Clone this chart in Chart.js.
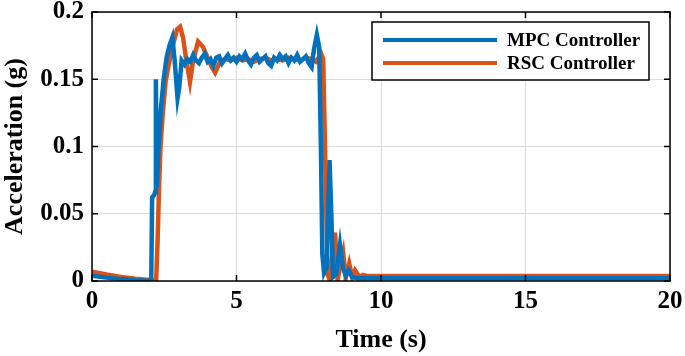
<!DOCTYPE html>
<html>
<head>
<meta charset="utf-8">
<script src="https://cdn.jsdelivr.net/npm/chart.js@4"></script>
<style>
  html, body { margin: 0; padding: 0; background: #fff; }
  canvas { display: block; }
</style>
</head>
<body>
<canvas id="accChart" width="685" height="356"></canvas>
<script>
// time (s) and acceleration (g)
const tMpc = [0, 0.5, 1, 1.5, 2.0, 2.05, 2.08, 2.15, 2.18, 2.21, 2.24, 2.3, 2.38, 2.48, 2.58, 2.68, 2.78, 2.86, 2.96, 3.02, 3.1,
  3.2, 3.3, 3.4, 3.5, 3.6, 3.7, 3.8, 3.9, 4.0, 4.1, 4.2, 4.3, 4.4, 4.5, 4.6, 4.7, 4.8, 4.9, 5.0, 5.1, 5.2, 5.3, 5.4,
  5.5, 5.6, 5.7, 5.8, 5.9, 6.0, 6.1, 6.2, 6.3, 6.4, 6.5, 6.6, 6.7, 6.8, 6.9, 7.0, 7.1, 7.2, 7.3, 7.4, 7.5, 7.6,
  7.68, 7.78, 7.86, 7.92, 7.97, 8.03, 8.12, 8.22, 8.28, 8.34, 8.45, 8.58, 8.68, 8.78, 8.88, 9.0, 9.2, 20];
const aMpc = [0.004, 0.0025, 0.0014, 0.0006, 0.0002, 0.0, 0.062, 0.064, 0.066, 0.15, 0.07, 0.1, 0.127, 0.15, 0.166, 0.175, 0.181, 0.164, 0.136, 0.144, 0.164,
  0.161, 0.165, 0.163, 0.168, 0.164, 0.162, 0.166, 0.169, 0.163, 0.165, 0.160, 0.166, 0.167, 0.162, 0.165, 0.168, 0.164, 0.166, 0.163, 0.167, 0.165,
  0.169, 0.164, 0.161, 0.166, 0.168, 0.163, 0.165, 0.167, 0.162, 0.160, 0.166, 0.164, 0.168, 0.165, 0.167, 0.162, 0.166, 0.164, 0.168, 0.163, 0.165,
  0.167, 0.162, 0.159, 0.172, 0.183, 0.174, 0.10, 0.02, 0.006, 0.01, 0.09, 0.05, 0.003, 0.005,
  0.027, 0.01, 0.004, 0.008, 0.003, 0.002, 0.002];

const tRsc = [0, 0.5, 1, 1.5, 2.0, 2.22, 2.27, 2.32, 2.37, 2.45, 2.55, 2.7, 2.82, 2.94, 3.05, 3.15, 3.25, 3.32, 3.39, 3.5, 3.67, 3.84, 4.0, 4.15, 4.26, 4.43,
  4.6, 4.8, 5.0, 5.2, 5.4, 5.6, 5.8, 6.0, 6.2, 6.4, 6.6, 6.8, 7.0, 7.2, 7.4, 7.6, 7.75, 7.93, 8.0, 8.08, 8.15, 8.22, 8.32, 8.41, 8.5, 8.6,
  8.69, 8.78, 8.9, 9.0, 9.1, 9.25, 9.38, 9.5, 20];
const aRsc = [0.007, 0.0048, 0.003, 0.0017, 0.0008, 0.0, 0.03, 0.07, 0.1, 0.125, 0.149, 0.166, 0.177, 0.187, 0.189, 0.181, 0.166, 0.157, 0.148, 0.164, 0.178, 0.174, 0.166, 0.159, 0.155, 0.163,
  0.165, 0.164, 0.166, 0.164, 0.165, 0.163, 0.165, 0.166, 0.164, 0.165, 0.164, 0.166, 0.165, 0.164, 0.166, 0.165, 0.163, 0.169, 0.165, 0.08, 0.005, 0.001, 0.02, 0.036, 0.001, 0.012,
  0.021, 0.002, 0.013, 0.003, 0.008, 0.003, 0.0045, 0.0037, 0.0037];

const seriesNames = ['MPC Controller', 'RSC Controller'];
const xTicks = [0, 5, 10, 15, 20];
const yTicks = [0, 0.05, 0.1, 0.15, 0.2];

const FONT = "'Liberation Serif', 'Times New Roman', serif";

// MATLAB style box with inward ticks plus a legend inside the axes
const boxPlugin = {
  id: 'box',
  afterDraw(chart) {
    const { ctx, chartArea: a, scales } = chart;
    ctx.save();
    ctx.strokeStyle = '#000';
    ctx.lineWidth = 1.5;
    ctx.strokeRect(a.left, a.top, a.right - a.left, a.bottom - a.top);
    ctx.beginPath();
    xTicks.forEach(v => {
      const px = scales.x.getPixelForValue(v);
      ctx.moveTo(px, a.bottom); ctx.lineTo(px, a.bottom - 6);
      ctx.moveTo(px, a.top); ctx.lineTo(px, a.top + 6);
    });
    yTicks.forEach(v => {
      const py = scales.y.getPixelForValue(v);
      ctx.moveTo(a.left, py); ctx.lineTo(a.left + 6, py);
      ctx.moveTo(a.right, py); ctx.lineTo(a.right - 6, py);
    });
    ctx.stroke();

    // legend
    const bx = 372, by = 22, bw = 277, bh = 58;
    ctx.fillStyle = '#fff';
    ctx.fillRect(bx, by, bw, bh);
    ctx.lineWidth = 1.5;
    ctx.strokeRect(bx, by, bw, bh);
    ctx.font = 'bold 19px ' + FONT;
    ctx.textBaseline = 'middle';
    chart.data.datasets.forEach((ds, i) => {
      const y = by + 18 + i * 23;
      ctx.strokeStyle = ds.borderColor;
      ctx.lineWidth = 4;
      ctx.beginPath();
      ctx.moveTo(bx + 11, y); ctx.lineTo(bx + 125, y);
      ctx.stroke();
      ctx.fillStyle = '#000';
      ctx.fillText(ds.label, bx + 135, y + 1);
    });
    ctx.restore();
  }
};

new Chart(document.getElementById('accChart'), {
  type: 'line',
  data: {
    datasets: [
      {
        label: seriesNames[0],
        data: tMpc.map((t, i) => ({ x: t, y: aMpc[i] })),
        borderColor: '#0072BD',
        borderWidth: 4.5,
        pointRadius: 0,
        tension: 0
      },
      {
        label: seriesNames[1],
        data: tRsc.map((t, i) => ({ x: t, y: aRsc[i] })),
        borderColor: '#D95319',
        borderWidth: 4.5,
        pointRadius: 0,
        tension: 0
      }
    ]
  },
  options: {
    responsive: false,
    animation: false,
    layout: { padding: { top: 12, right: 15, left: 0, bottom: 0 } },
    plugins: {
      legend: { display: false },
      tooltip: { enabled: false }
    },
    scales: {
      x: {
        type: 'linear',
        min: 0, max: 20,
        afterBuildTicks: s => { s.ticks = xTicks.map(v => ({ value: v })); },
        grid: { color: '#dcdcdc', lineWidth: 1, drawTicks: false },
        border: { display: false },
        ticks: {
          color: '#000', padding: 6, maxRotation: 0,
          font: { family: FONT, size: 25, weight: 'bold' }
        },
        title: {
          display: true, text: 'Time (s)', color: '#000',
          padding: { top: 0, bottom: 0 },
          font: { family: FONT, size: 26, weight: 'bold' }
        },
        afterFit: s => { s.height = 75; s.paddingLeft = 0; s.paddingRight = 0; }
      },
      y: {
        min: 0, max: 0.2,
        afterBuildTicks: s => { s.ticks = yTicks.map(v => ({ value: v })); },
        grid: { color: '#dcdcdc', lineWidth: 1, drawTicks: false },
        border: { display: false },
        ticks: {
          color: '#000', padding: 8,
          callback: v => String(v),
          font: { family: FONT, size: 25, weight: 'bold' }
        },
        title: {
          display: true, text: 'Acceleration (g)', color: '#000',
          padding: { top: 0, bottom: 0 },
          font: { family: FONT, size: 26, weight: 'bold' }
        },
        afterFit: s => { s.width = 92; s.paddingTop = 0; s.paddingBottom = 0; }
      }
    }
  },
  plugins: [boxPlugin]
});
</script>
</body>
</html>
